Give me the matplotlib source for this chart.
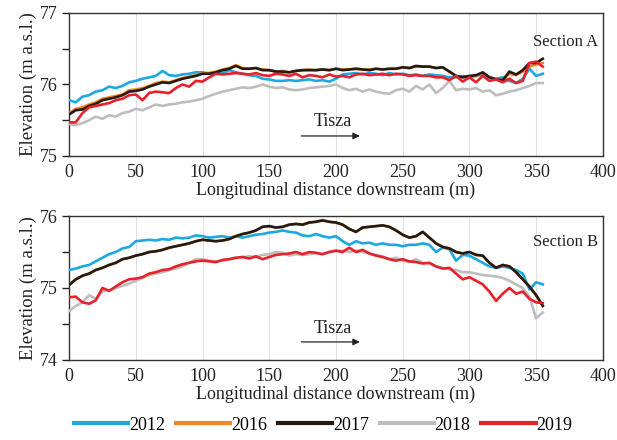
import numpy as np
import matplotlib
matplotlib.use("Agg")
import matplotlib.pyplot as plt

plt.rcParams['font.family'] = ['Liberation Serif', 'DejaVu Serif']

# distance downstream (m)
dist = np.arange(0, 360, 5)

# Section A elevations (m a.s.l.)
a2012 = [75.78, 75.75, 75.83, 75.85, 75.90, 75.92, 75.97, 75.95, 75.98, 76.03,
         76.05, 76.08, 76.10, 76.12, 76.19, 76.13, 76.12, 76.14, 76.15, 76.17,
         76.17, 76.15, 76.17, 76.16, 76.20, 76.17, 76.15, 76.13, 76.12, 76.08,
         76.07, 76.05, 76.05, 76.06, 76.05, 76.06, 76.07, 76.05, 76.06, 76.04,
         76.08, 76.14, 76.15, 76.16, 76.14, 76.16, 76.15, 76.13, 76.16, 76.14,
         76.15, 76.13, 76.14, 76.12, 76.14, 76.13, 76.12, 76.10, 76.10, 76.12,
         76.10, 76.12, 76.14, 76.10, 76.08, 76.10, 76.05, 76.02, 76.08, 76.22,
         76.12, 76.15]
a2016 = [75.60, 75.66, 75.68, 75.72, 75.75, 75.80, 75.82, 75.84, 75.86, 75.92,
         75.93, 75.95, 75.98, 76.02, 76.04, 76.03, 76.06, 76.09, 76.11, 76.13,
         76.16, 76.16, 76.18, 76.21, 76.23, 76.27, 76.23, 76.22, 76.23, 76.21,
         76.20, 76.18, 76.19, 76.17, 76.19, 76.20, 76.21, 76.20, 76.21, 76.20,
         76.22, 76.21, 76.21, 76.22, 76.21, 76.21, 76.22, 76.21, 76.22, 76.22,
         76.24, 76.23, 76.25, 76.25, 76.25, 76.23, 76.24, 76.18, 76.12, 76.10,
         76.11, 76.12, 76.16, 76.10, 76.07, 76.06, 76.15, 76.13, 76.18, 76.25,
         76.28, 76.30]
a2017 = [75.58, 75.64, 75.65, 75.70, 75.73, 75.78, 75.80, 75.82, 75.85, 75.90,
         75.91, 75.93, 75.97, 76.00, 76.03, 76.02, 76.05, 76.08, 76.10, 76.12,
         76.15, 76.15, 76.17, 76.20, 76.22, 76.26, 76.22, 76.22, 76.23, 76.20,
         76.20, 76.18, 76.18, 76.17, 76.19, 76.20, 76.20, 76.20, 76.21, 76.20,
         76.22, 76.20, 76.21, 76.22, 76.21, 76.20, 76.22, 76.21, 76.22, 76.22,
         76.24, 76.23, 76.26, 76.25, 76.25, 76.23, 76.24, 76.18, 76.12, 76.10,
         76.12, 76.13, 76.17, 76.10, 76.07, 76.06, 76.18, 76.14, 76.20, 76.30,
         76.30, 76.36]
a2018 = [75.45, 75.43, 75.46, 75.50, 75.55, 75.52, 75.57, 75.55, 75.60, 75.62,
         75.66, 75.64, 75.68, 75.72, 75.70, 75.72, 75.73, 75.75, 75.76, 75.78,
         75.80, 75.84, 75.87, 75.90, 75.92, 75.94, 75.96, 75.95, 75.97, 76.00,
         75.97, 75.95, 75.96, 75.93, 75.92, 75.93, 75.95, 75.96, 75.97, 75.98,
         76.00, 75.95, 75.92, 75.94, 75.90, 75.93, 75.90, 75.88, 75.87, 75.92,
         75.94, 75.90, 75.98, 75.93, 76.00, 75.88, 75.95, 76.05, 75.92, 75.94,
         75.93, 75.95, 75.90, 75.92, 75.85, 75.87, 75.90, 75.92, 75.95, 75.98,
         76.02, 76.02]
a2019 = [75.47, 75.47, 75.60, 75.68, 75.70, 75.72, 75.74, 75.78, 75.80, 75.85,
         75.86, 75.78, 75.88, 75.90, 75.89, 75.88, 75.95, 76.00, 75.97, 76.05,
         76.04, 76.10, 76.15, 76.14, 76.15, 76.16, 76.15, 76.14, 76.16, 76.13,
         76.12, 76.15, 76.14, 76.12, 76.15, 76.10, 76.13, 76.12, 76.10, 76.14,
         76.11, 76.12, 76.10, 76.14, 76.15, 76.13, 76.14, 76.15, 76.13, 76.15,
         76.14, 76.12, 76.13, 76.12, 76.12, 76.10, 76.10, 76.06, 76.12, 76.04,
         76.10, 76.03, 76.12, 76.05, 76.07, 76.03, 76.08, 76.02, 76.05, 76.30,
         76.32, 76.25]

# Section B elevations (m a.s.l.)
b2012 = [75.25, 75.27, 75.30, 75.32, 75.37, 75.42, 75.47, 75.50, 75.55, 75.57,
         75.65, 75.66, 75.67, 75.66, 75.68, 75.67, 75.70, 75.69, 75.70, 75.73,
         75.72, 75.70, 75.71, 75.72, 75.70, 75.72, 75.70, 75.72, 75.74, 75.75,
         75.77, 75.78, 75.80, 75.78, 75.77, 75.73, 75.72, 75.75, 75.72, 75.70,
         75.72, 75.65, 75.60, 75.65, 75.62, 75.63, 75.60, 75.62, 75.60, 75.60,
         75.58, 75.60, 75.60, 75.62, 75.60, 75.50, 75.56, 75.54, 75.38, 75.46,
         75.45, 75.40, 75.35, 75.30, 75.28, 75.30, 75.28, 75.25, 75.20, 74.98,
         75.08, 75.05]
b2016 = [75.05, 75.12, 75.17, 75.20, 75.25, 75.28, 75.32, 75.35, 75.40, 75.42,
         75.45, 75.47, 75.50, 75.51, 75.53, 75.56, 75.58, 75.60, 75.62, 75.65,
         75.67, 75.66, 75.65, 75.66, 75.68, 75.72, 75.75, 75.77, 75.80, 75.85,
         75.86, 75.84, 75.85, 75.88, 75.89, 75.88, 75.91, 75.92, 75.94, 75.92,
         75.91, 75.88, 75.82, 75.78, 75.84, 75.85, 75.86, 75.87, 75.85, 75.80,
         75.74, 75.70, 75.72, 75.78, 75.70, 75.62, 75.57, 75.55, 75.50, 75.48,
         75.50, 75.46, 75.45, 75.35, 75.28, 75.32, 75.30, 75.22, 75.12, 75.02,
         74.90, 74.76]
b2017 = [75.04, 75.12, 75.17, 75.20, 75.25, 75.28, 75.32, 75.35, 75.40, 75.42,
         75.45, 75.47, 75.50, 75.51, 75.53, 75.56, 75.58, 75.60, 75.62, 75.65,
         75.67, 75.66, 75.65, 75.66, 75.68, 75.72, 75.75, 75.77, 75.80, 75.85,
         75.86, 75.84, 75.85, 75.88, 75.89, 75.88, 75.91, 75.92, 75.94, 75.92,
         75.91, 75.88, 75.82, 75.78, 75.84, 75.85, 75.86, 75.87, 75.85, 75.80,
         75.74, 75.70, 75.72, 75.78, 75.70, 75.62, 75.57, 75.55, 75.50, 75.48,
         75.50, 75.46, 75.45, 75.35, 75.28, 75.32, 75.30, 75.22, 75.12, 75.02,
         74.90, 74.75]
b2018 = [74.68, 74.75, 74.80, 74.90, 74.85, 74.95, 74.97, 75.00, 75.03, 75.06,
         75.10, 75.14, 75.18, 75.20, 75.22, 75.25, 75.27, 75.30, 75.35, 75.40,
         75.40, 75.38, 75.37, 75.38, 75.40, 75.42, 75.43, 75.44, 75.43, 75.46,
         75.47, 75.50, 75.49, 75.45, 75.47, 75.46, 75.47, 75.48, 75.47, 75.50,
         75.51, 75.52, 75.50, 75.52, 75.50, 75.48, 75.46, 75.44, 75.40, 75.42,
         75.38, 75.36, 75.40, 75.35, 75.34, 75.30, 75.28, 75.26, 75.25, 75.22,
         75.22, 75.20, 75.18, 75.17, 75.16, 75.14, 75.10, 75.05, 75.00, 74.88,
         74.58, 74.66]
b2019 = [74.87, 74.88, 74.80, 74.78, 74.83, 75.00, 74.96, 75.02, 75.08, 75.12,
         75.13, 75.15, 75.20, 75.22, 75.25, 75.26, 75.30, 75.33, 75.35, 75.37,
         75.38, 75.37, 75.36, 75.39, 75.40, 75.42, 75.43, 75.41, 75.44, 75.40,
         75.43, 75.46, 75.47, 75.48, 75.50, 75.47, 75.50, 75.49, 75.47, 75.50,
         75.52, 75.50, 75.56, 75.50, 75.53, 75.48, 75.45, 75.43, 75.40, 75.38,
         75.40, 75.37, 75.36, 75.34, 75.35, 75.30, 75.27, 75.28, 75.20, 75.12,
         75.15, 75.10, 75.05, 74.95, 74.82, 74.92, 75.00, 74.92, 74.95, 74.85,
         74.80, 74.79]

years = ['2012', '2016', '2017', '2018', '2019']
colors = {'2012': '#1ba9e1', '2016': '#f5861f', '2017': '#231a14',
          '2018': '#bdbdbd', '2019': '#e8202a'}
draw_order = ['2018', '2012', '2016', '2017', '2019']

sections = [
    ('Section A', {'2012': a2012, '2016': a2016, '2017': a2017,
                   '2018': a2018, '2019': a2019}, (75, 77), 75.28, 75.48, 76.6),
    ('Section B', {'2012': b2012, '2016': b2016, '2017': b2017,
                   '2018': b2018, '2019': b2019}, (74, 76), 74.25, 74.44, 75.64),
]

fig = plt.figure(figsize=(6.17, 4.4), dpi=100)
ax_pos = [[0.112, 0.6455, 0.865, 0.325], [0.112, 0.182, 0.865, 0.327]]

handles = {}
for pos, (name, data, ylim, arr_y, txt_y, lab_y) in zip(ax_pos, sections):
    ax = fig.add_axes(pos)
    for yr in draw_order:
        ln, = ax.plot(dist, data[yr], color=colors[yr], lw=1.9, zorder=3)
        handles[yr] = ln
    ax.set_xlim(0, 400)
    ax.set_ylim(*ylim)
    ax.set_xticks(np.arange(0, 401, 50))
    ax.set_yticks([ylim[0], ylim[0] + 1, ylim[1]])
    ax.set_yticks([ylim[0] + 0.5, ylim[0] + 1.5], minor=True)
    ax.tick_params(axis='x', length=0, labelsize=13, pad=6, colors='#222222')
    ax.tick_params(axis='y', which='both', direction='out', length=5,
                   width=1, labelsize=13, colors='#222222')
    ax.grid(axis='x', color='#e2e2e2', lw=0.8, zorder=0)
    for s in ax.spines.values():
        s.set_color('#333333')
        s.set_linewidth(1.0)
    ax.set_xlabel('Longitudinal distance downstream (m)', fontsize=13,
                  labelpad=0, color='#222222')
    ax.set_ylabel('Elevation (m a.s.l.)', fontsize=13.5, labelpad=2,
                  color='#222222')
    ax.text(372, lab_y, name, fontsize=12, ha='center', va='center',
            color='#222222')
    ax.annotate('', xy=(220, arr_y), xytext=(172, arr_y),
                arrowprops=dict(arrowstyle='-|>', color='#222222', lw=0.9,
                                mutation_scale=10))
    ax.text(198, txt_y, 'Tisza', fontsize=13, ha='center', va='center',
            color='#222222')

leg = fig.legend([handles[y] for y in years], years, loc='center',
                 bbox_to_anchor=(0.524, 0.034), ncol=5, frameon=False,
                 fontsize=13, handlelength=3.0, handletextpad=0.05,
                 columnspacing=0.6)
for ln in leg.get_lines():
    ln.set_linewidth(3)

plt.savefig('out.png', dpi=100)
